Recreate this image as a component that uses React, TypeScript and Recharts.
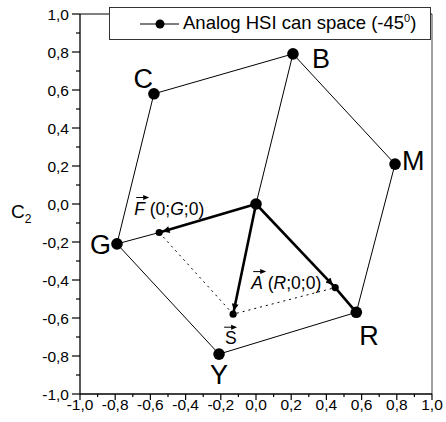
import React from "react";
import { ScatterChart, Scatter, XAxis, YAxis, ReferenceLine, Legend } from "recharts";

// hexagon vertices of the analog HSI can space
const hexNames = ["C", "B", "M", "R", "Y", "G"];
const hexX = [-0.58, 0.21, 0.79, 0.57, -0.21, -0.79];
const hexY = [0.58, 0.79, 0.21, -0.57, -0.79, -0.21];

// origin and the vector end points F, A and S
const vecNames = ["O", "F", "A", "S"];
const vecX = [0, -0.55, 0.45, -0.13];
const vecY = [0, -0.15, -0.44, -0.58];

const xTicks = [-1, -0.9, -0.8, -0.7, -0.6, -0.5, -0.4, -0.3, -0.2, -0.1, 0, 0.1, 0.2, 0.3, 0.4, 0.5, 0.6, 0.7, 0.8, 0.9, 1];
const yTicks = [-1, -0.9, -0.8, -0.7, -0.6, -0.5, -0.4, -0.3, -0.2, -0.1, 0, 0.1, 0.2, 0.3, 0.4, 0.5, 0.6, 0.7, 0.8, 0.9, 1];

const legendLabel = "Analog HSI can space (-45";

type Pt = { name: string; x: number; y: number };
const pts: Record<string, Pt> = {};
hexNames.forEach((n, i) => (pts[n] = { name: n, x: hexX[i], y: hexY[i] }));
vecNames.forEach((n, i) => (pts[n] = { name: n, x: vecX[i], y: vecY[i] }));
const path = (...names: string[]) => names.map((n) => pts[n]);

const FONT = "'Liberation Sans', Arial, sans-serif";
const INK = "#000";

const isMajor = (v: number) => Math.abs(v * 5 - Math.round(v * 5)) < 1e-6;
const fmt = (v: number) => v.toFixed(1).replace(".", ",");

const XTick = (props: any) => {
  const { x, y, payload } = props;
  const major = isMajor(payload.value);
  return (
    <g>
      <line x1={x} y1={y} x2={x} y2={y + (major ? 6 : 3)} stroke={INK} strokeWidth={1.2} />
      {major && (
        <text x={x} y={y + 16} textAnchor="middle" fontFamily={FONT} fontSize={15.5} fill={INK}>
          {fmt(payload.value)}
        </text>
      )}
    </g>
  );
};

const YTick = (props: any) => {
  const { x, y, payload } = props;
  const major = isMajor(payload.value);
  return (
    <g>
      <line x1={x} y1={y} x2={x - (major ? 8 : 4)} y2={y} stroke={INK} strokeWidth={1.2} />
      {major && (
        <text x={x - 11} y={y + 5.5} textAnchor="end" fontFamily={FONT} fontSize={15.5} fill={INK}>
          {fmt(payload.value)}
        </text>
      )}
    </g>
  );
};

// big letters beside the hexagon vertices
const letterPos: Record<string, [number, number, string]> = {
  B: [19, 14, "start"],
  C: [-1, -6, "end"],
  M: [7, 6, "start"],
  G: [-6, 10, "end"],
  R: [3, 33, "start"],
  Y: [0, 30, "middle"],
};

const VertexDot = (props: any) => {
  const { cx, cy, payload } = props;
  const lp = letterPos[payload.name];
  return (
    <g>
      <circle cx={cx} cy={cy} r={5.8} fill={INK} />
      {lp && (
        <text x={cx + lp[0]} y={cy + lp[1]} textAnchor={lp[2]} fontFamily={FONT} fontSize={27} fill={INK}>
          {payload.name}
        </text>
      )}
    </g>
  );
};

const VecArrow = ({ x, y, w }: { x: number; y: number; w: number }) => (
  <g>
    <line x1={x} y1={y} x2={x + w - 3} y2={y} stroke={INK} strokeWidth={1} />
    <path d={`M${x + w},${y} L${x + w - 6},${y - 2.5} L${x + w - 6},${y + 2.5} Z`} fill={INK} />
  </g>
);

const VectorDot = (props: any) => {
  const { cx, cy, payload } = props;
  const n = payload.name;
  let label: React.ReactNode = null;
  if (n === "F") {
    const x = cx - 25, y = cy - 18;
    label = (
      <g>
        <VecArrow x={x + 2} y={y - 17} w={13} />
        <text x={x} y={y} fontFamily={FONT} fontSize={17.5} fill={INK}>
          <tspan fontStyle="italic">F</tspan>
          <tspan> (0;</tspan>
          <tspan fontStyle="italic">G</tspan>
          <tspan>;0)</tspan>
        </text>
      </g>
    );
  } else if (n === "A") {
    const x = cx - 84, y = cy + 1;
    label = (
      <g>
        <VecArrow x={x + 2} y={y - 17} w={13} />
        <text x={x} y={y} fontFamily={FONT} fontSize={17.5} fill={INK}>
          <tspan fontStyle="italic">A</tspan>
          <tspan> (</tspan>
          <tspan fontStyle="italic">R</tspan>
          <tspan>;0;0)</tspan>
        </text>
      </g>
    );
  } else if (n === "S") {
    const x = cx - 8, y = cy + 30;
    label = (
      <g>
        <VecArrow x={x - 1} y={y - 17} w={13} />
        <text x={x} y={y} fontFamily={FONT} fontSize={17.5} fill={INK}>
          S
        </text>
      </g>
    );
  }
  return (
    <g>
      <circle cx={cx} cy={cy} r={n === "O" ? 5.8 : 3.6} fill={INK} />
      {label}
    </g>
  );
};

const NoDot = () => <g />;

const LegendBox = () => (
  <div
    style={{
      width: 322,
      height: 33,
      border: "1px solid #333",
      background: "#fff",
      boxSizing: "border-box",
      display: "flex",
      alignItems: "center",
    }}
  >
    <svg width={48} height={29} style={{ marginLeft: 28 }}>
      <line x1={2} y1={15} x2={41} y2={15} stroke={INK} strokeWidth={1.2} />
      <circle cx={22} cy={15} r={4.5} fill={INK} />
    </svg>
    <span style={{ fontFamily: FONT, fontSize: 18.5, color: INK, marginLeft: -3, whiteSpace: "nowrap" }}>
      {legendLabel}
      <sup style={{ fontSize: 11 }}>0</sup>)
    </span>
  </div>
);

const thin = { stroke: INK, strokeWidth: 1 };
const thick = { stroke: INK, strokeWidth: 2.6 };

export default function App() {
  return (
    <div style={{ position: "absolute", left: 0, top: 0, width: 446, height: 422, background: "#fff" }}>
      <svg width={0} height={0} style={{ position: "absolute" }}>
        <defs>
          <marker
            id="vecHead"
            viewBox="0 0 10 10"
            refX={15}
            refY={5}
            markerWidth={9}
            markerHeight={7}
            markerUnits="userSpaceOnUse"
            orient="auto"
          >
            <path d="M0,0 L10,5 L0,10 Z" fill={INK} />
          </marker>
        </defs>
      </svg>
      <ScatterChart width={446} height={422} margin={{ top: 14, right: 14, bottom: 0, left: 0 }}>
        <XAxis
          type="number"
          dataKey="x"
          domain={[-1, 1]}
          ticks={xTicks}
          interval={0}
          tickSize={0}
          tickMargin={0}
          tickLine={false}
          tick={<XTick />}
          height={28}
          axisLine={{ stroke: INK, strokeWidth: 1.3 }}
          allowDataOverflow
        />
        <YAxis
          type="number"
          dataKey="y"
          domain={[-1, 1]}
          ticks={yTicks}
          interval={0}
          tickSize={0}
          tickMargin={0}
          tickLine={false}
          tick={<YTick />}
          width={80}
          axisLine={{ stroke: INK, strokeWidth: 1.3 }}
          allowDataOverflow
          label={{
            content: (p: any) => {
              const vb = p.viewBox || { y: 14, height: 380 };
              const cy = vb.y + vb.height / 2;
              return (
                <text x={11} y={cy + 14} fontFamily={FONT} fontSize={19} fill={INK}>
                  C
                  <tspan fontSize={12} dy={5}>2</tspan>
                </text>
              );
            },
          }}
        />
        <ReferenceLine y={1} stroke={INK} strokeWidth={1} />
        <ReferenceLine x={1} stroke="#444" strokeWidth={1} />
        <Legend
          layout="horizontal"
          verticalAlign="middle"
          align="center"
          wrapperStyle={{ top: 7, left: 109, width: 322 }}
          content={() => <LegendBox />}
        />

        <Scatter data={path("C", "B", "M", "R", "Y", "G", "C")} line={thin} shape={NoDot} isAnimationActive={false} legendType="none" />
        <Scatter data={path("O", "B")} line={thin} shape={NoDot} isAnimationActive={false} legendType="none" />
        <Scatter data={path("G", "F")} line={thin} shape={NoDot} isAnimationActive={false} legendType="none" />
        <Scatter data={path("O", "F")} line={{ ...thick, markerEnd: "url(#vecHead)" }} shape={NoDot} isAnimationActive={false} legendType="none" />
        <Scatter data={path("O", "A")} line={{ ...thick, markerEnd: "url(#vecHead)" }} shape={NoDot} isAnimationActive={false} legendType="none" />
        <Scatter data={path("A", "R")} line={thick} shape={NoDot} isAnimationActive={false} legendType="none" />
        <Scatter data={path("O", "S")} line={{ ...thick, markerEnd: "url(#vecHead)" }} shape={NoDot} isAnimationActive={false} legendType="none" />
        <Scatter data={path("F", "S", "A")} line={{ stroke: INK, strokeWidth: 1, strokeDasharray: "2 4" }} shape={NoDot} isAnimationActive={false} legendType="none" />

        <Scatter name="Analog HSI can space" data={path(...hexNames)} shape={VertexDot} isAnimationActive={false} />
        <Scatter data={path(...vecNames)} shape={VectorDot} isAnimationActive={false} legendType="none" />
      </ScatterChart>
    </div>
  );
}
